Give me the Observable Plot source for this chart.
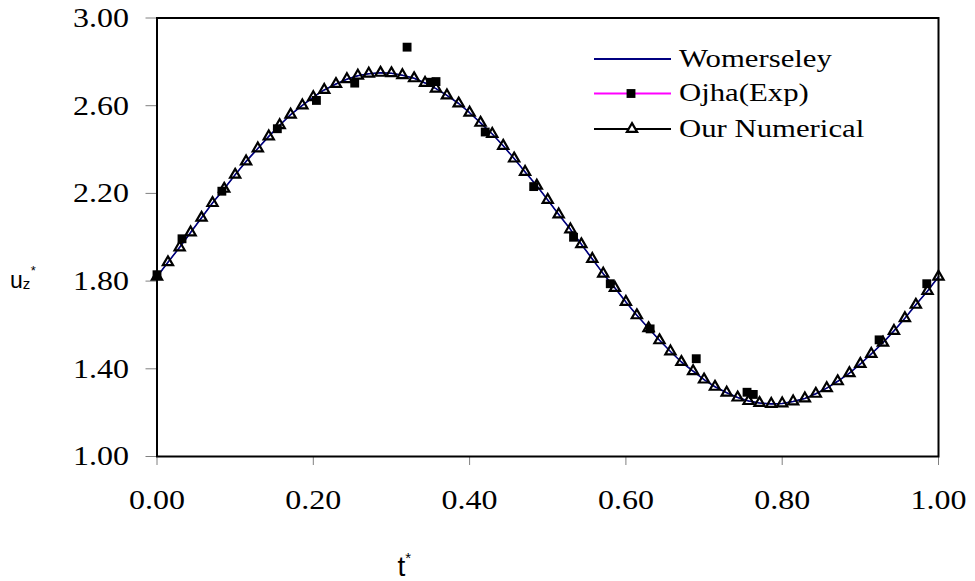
<!DOCTYPE html>
<html>
<head>
<meta charset="utf-8">
<script src="https://cdn.jsdelivr.net/npm/d3@7"></script>
<script src="https://cdn.jsdelivr.net/npm/@observablehq/plot@0.6"></script>
<style>
  html, body { margin: 0; padding: 0; background: white; overflow: hidden; }
  #chart svg { display: block; }
</style>
</head>
<body>
<div id="chart"></div>
<script>
// ---- data ----
const numT = [0.000,0.014,0.029,0.043,0.057,0.071,0.086,
  0.100,0.114,0.129,0.143,0.157,0.171,0.186,
  0.200,0.214,0.229,0.243,0.257,0.271,0.286,
  0.300,0.314,0.329,0.343,0.357,0.371,0.386,
  0.400,0.414,0.429,0.443,0.457,0.471,0.486,
  0.500,0.514,0.529,0.543,0.557,0.571,0.586,
  0.600,0.614,0.629,0.643,0.657,0.671,0.686,
  0.700,0.714,0.729,0.743,0.757,0.771,0.786,
  0.800,0.814,0.829,0.843,0.857,0.871,0.886,
  0.900,0.914,0.929,0.943,0.957,0.971,0.986,1.000];
const numericalU = [1.820,1.886,1.954,2.022,2.089,2.156,2.221,
  2.285,2.346,2.405,2.460,2.511,2.559,2.601,
  2.639,2.672,2.699,2.721,2.737,2.746,2.750,
  2.748,2.739,2.725,2.704,2.678,2.647,2.610,
  2.568,2.522,2.471,2.417,2.359,2.298,2.235,
  2.170,2.104,2.036,1.968,1.901,1.834,1.769,
  1.705,1.644,1.585,1.530,1.479,1.431,1.389,
  1.351,1.318,1.291,1.269,1.253,1.244,1.240,
  1.242,1.251,1.265,1.286,1.312,1.343,1.380,
  1.422,1.468,1.519,1.573,1.631,1.692,1.755,1.820];
const womersleyU = [1.820,1.886,1.954,2.022,2.089,2.156,2.221,
  2.285,2.346,2.405,2.460,2.511,2.559,2.601,
  2.639,2.672,2.699,2.721,2.737,2.746,2.750,
  2.748,2.739,2.725,2.704,2.678,2.647,2.610,
  2.568,2.522,2.471,2.417,2.359,2.298,2.235,
  2.170,2.104,2.036,1.968,1.901,1.834,1.769,
  1.705,1.644,1.585,1.530,1.479,1.431,1.389,
  1.351,1.318,1.291,1.269,1.253,1.244,1.240,
  1.242,1.251,1.265,1.286,1.312,1.343,1.380,
  1.422,1.468,1.519,1.573,1.631,1.692,1.755,1.820];
const expT = [0.000,0.032,0.083,0.154,0.204,0.253,0.320,0.350,0.357,0.420,0.482,0.533,0.580,0.631,0.690,0.755,0.763,0.924,0.985];
const expU = [1.829,1.993,2.210,2.495,2.624,2.703,2.867,2.707,2.710,2.480,2.231,2.000,1.788,1.582,1.446,1.293,1.283,1.532,1.788];
const xTicks = [0, 0.2, 0.4, 0.6, 0.8, 1.0];
const yTicks = [1.0, 1.4, 1.8, 2.2, 2.6, 3.0];
const legendLabels = ["Womerseley", "Ojha(Exp)", "Our Numerical"];
const legendColors = ["#000080", "#ff00ff", "#000000"];
const legendSymbols = [null, "square", "triangle"];

// ---- tables ----
const numerical = numT.map((t, i) => ({t, u: numericalU[i]}));
const womersley = numT.map((t, i) => ({t, u: womersleyU[i]}));
const experiment = expT.map((t, i) => ({t, u: expU[i]}));

const fmt = d3.format(".2f");
const serif = "Liberation Serif, Times New Roman, serif";
const sans = "Liberation Sans, Arial, sans-serif";

const chart = Plot.plot({
  width: 975,
  height: 581,
  marginLeft: 156.5,
  marginRight: 37,
  marginTop: 17.5,
  marginBottom: 125,
  style: {fontFamily: serif, fontSize: "28px", background: "white", color: "black", overflow: "visible"},
  x: {domain: [0, 1]},
  y: {domain: [1, 3]},
  marks: [
    Plot.axisX({ticks: xTicks, tickFormat: fmt, tickSize: 9, tickPadding: 24, label: null, stroke: "#808080", fill: "black", fontFamily: serif, fontSize: 28}),
    Plot.axisY({ticks: yTicks, tickFormat: fmt, tickSize: 11, tickPadding: 17, label: null, stroke: "#808080", fill: "black", fontFamily: serif, fontSize: 28}),
    Plot.line(numerical, {x: "t", y: "u", stroke: "black", strokeWidth: 1}),
    Plot.line(womersley, {x: "t", y: "u", stroke: "#000080", strokeWidth: 1.6}),
    Plot.dot(numerical, {x: "t", y: "u", symbol: "triangle", r: 3.8, stroke: "black", strokeWidth: 2.2, fill: "none"}),
    Plot.dot(experiment, {x: "t", y: "u", symbol: "square", r: 5, fill: "black", stroke: "none"}),
    Plot.frame({stroke: "black", strokeWidth: 2})
  ]
});

document.getElementById("chart").appendChild(chart);

const svg = d3.select(chart);

// serif tick labels, stretched horizontally like the reference
svg.selectAll('[aria-label="x-axis tick label"], [aria-label="y-axis tick label"]')
  .attr("font-family", serif).style("font-family", serif);
svg.selectAll('[aria-label="x-axis tick label"] text, [aria-label="y-axis tick label"] text')
  .style("font-family", serif)
  .attr("textLength", 56).attr("lengthAdjust", "spacingAndGlyphs");

// y-axis label u_z*
const ul = svg.append("text").attr("x", 10).attr("y", 288).attr("text-anchor", "start")
  .attr("font-family", sans).attr("font-size", 23).attr("fill", "black");
ul.append("tspan").text("u");
ul.append("tspan").attr("font-size", 15).attr("dy", 1).text("z");
ul.append("tspan").attr("font-size", 13).attr("dx", 0.5).attr("dy", -14.5).text("*");

// x-axis label t*
const tl = svg.append("text").attr("x", 397.5).attr("y", 576).attr("text-anchor", "start")
  .attr("font-family", sans).attr("font-size", 28).attr("fill", "black");
tl.append("tspan").text("t");
tl.append("tspan").attr("font-size", 15).attr("dy", -13.5).text("*");

// legend
const legendY = [59, 93.5, 129];
const lg = svg.append("g");
legendLabels.forEach((label, i) => {
  const y = legendY[i];
  lg.append("line").attr("x1", 594).attr("x2", 671).attr("y1", y).attr("y2", y)
    .attr("stroke", legendColors[i]).attr("stroke-width", 2);
  if (legendSymbols[i] === "square") {
    lg.append("path").attr("d", d3.symbol(d3.symbolSquare, Math.PI * 25)()).attr("transform", `translate(631,${y})`)
      .attr("fill", "black");
  } else if (legendSymbols[i] === "triangle") {
    lg.append("path").attr("d", d3.symbol(d3.symbolTriangle, Math.PI * 3.8 * 3.8)()).attr("transform", `translate(632,${y})`)
      .attr("fill", "white").attr("stroke", "black").attr("stroke-width", 2.2);
  }
  lg.append("g").attr("transform", `translate(679,${y + 7.5}) scale(1.23,1)`)
    .append("text").attr("text-anchor", "start").attr("font-family", serif).attr("font-size", 25).attr("fill", "black").text(label);
});
</script>
</body>
</html>
